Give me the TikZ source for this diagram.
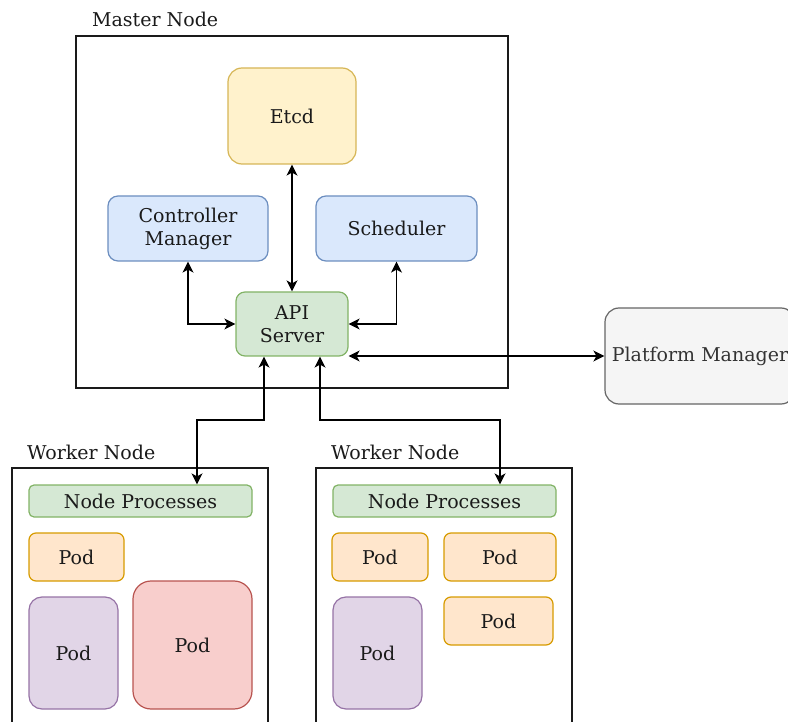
\documentclass[tikz,border=0pt]{standalone}
\usepackage{fontspec}
\setmainfont{DejaVu Serif}
\usetikzlibrary{arrows.meta}
\definecolor{ylwF}{HTML}{FFF2CC}\definecolor{ylwD}{HTML}{D6B656}
\definecolor{bluF}{HTML}{DAE8FC}\definecolor{bluD}{HTML}{6C8EBF}
\definecolor{grnF}{HTML}{D5E8D4}\definecolor{grnD}{HTML}{82B366}
\definecolor{orgF}{HTML}{FFE6CC}\definecolor{orgD}{HTML}{D79B00}
\definecolor{purF}{HTML}{E1D5E7}\definecolor{purD}{HTML}{9673A6}
\definecolor{redF}{HTML}{F8CECC}\definecolor{redD}{HTML}{B85450}
\definecolor{gryF}{HTML}{F5F5F5}\definecolor{gryD}{HTML}{666666}
\definecolor{gryT}{HTML}{333333}
\definecolor{ink}{HTML}{1A1A1A}
\tikzset{
  box/.style={draw, line width=1.2pt, rectangle, align=center, inner sep=0pt, text=ink,
    font=\fontsize{19}{23}\selectfont},
  container/.style={draw=ink, line width=1.5pt, rectangle, inner sep=0pt},
  caption/.style={anchor=base west, inner sep=0pt, text=ink, font=\fontsize{19}{23}\selectfont},
  yellowbox/.style={box, fill=ylwF, draw=ylwD},
  bluebox/.style={box, fill=bluF, draw=bluD},
  greenbox/.style={box, fill=grnF, draw=grnD},
  orangebox/.style={box, fill=orgF, draw=orgD},
  purplebox/.style={box, fill=purF, draw=purD},
  redbox/.style={box, fill=redF, draw=redD},
  greybox/.style={box, fill=gryF, draw=gryD, text=gryT},
  link/.style={draw=black, line width=1.5pt,
    {Stealth[length=11pt,width=11pt,inset=3pt]}-{Stealth[length=11pt,width=11pt,inset=3pt]}},
}
\begin{document}
\begin{tikzpicture}[x=1pt,y=-1pt]
\useasboundingbox (0,0) rectangle (788,722);

% containers
\node[container, minimum width=432, minimum height=352] (master) at (292,212) {};
\node[caption] (masterlbl) at (92,27) {Master Node};
\node[container, minimum width=256, minimum height=280] (w1) at (140,608) {};
\node[caption] (w1lbl) at (27,459) {Worker Node};
\node[container, minimum width=256, minimum height=280] (w2) at (444,608) {};
\node[caption] (w2lbl) at (331,459) {Worker Node};

% master components
\node[yellowbox, rounded corners=14pt, minimum width=128, minimum height=96] (etcd) at (292,116) {Etcd};
\node[bluebox, rounded corners=10pt, minimum width=160, minimum height=65] (ctrl) at (188,228.5) {Controller\\Manager};
\node[bluebox, rounded corners=10pt, minimum width=161, minimum height=65] (sched) at (396.5,228.5) {Scheduler};
\node[greenbox, rounded corners=9pt, minimum width=112, minimum height=64] (api) at (292,324) {API\\Server};
\node[greybox, rounded corners=14pt, minimum width=190, minimum height=96] (pm) at (700,356) {Platform Manager};

% worker 1
\node[greenbox, rounded corners=5pt, minimum width=223, minimum height=32] (np1) at (140.5,501) {Node Processes};
\node[orangebox, rounded corners=7pt, minimum width=95, minimum height=48] (p11) at (76.5,557) {Pod};
\node[purplebox, rounded corners=13pt, minimum width=89, minimum height=112] (p12) at (73.5,653) {Pod};
\node[redbox, rounded corners=18pt, minimum width=119, minimum height=128] (p13) at (192.5,645) {Pod};

% worker 2
\node[greenbox, rounded corners=5pt, minimum width=223, minimum height=32] (np2) at (444.5,501) {Node Processes};
\node[orangebox, rounded corners=7pt, minimum width=96, minimum height=48] (p21) at (380,557) {Pod};
\node[orangebox, rounded corners=7pt, minimum width=112, minimum height=48] (p22) at (500,557) {Pod};
\node[orangebox, rounded corners=7pt, minimum width=109, minimum height=48] (p23) at (498.5,621) {Pod};
\node[purplebox, rounded corners=13pt, minimum width=89, minimum height=112] (p24) at (377.5,653) {Pod};

% connectors
\draw[link] (etcd.south) -- (api.north);
\draw[link] (ctrl.south) |- (api.west);
\draw[link] (sched.south) |- (api.east);
\draw[link] (api.east |- 0,356) -- (pm.west);
\draw[link] (api.south -| 264,0) -- (264,420) -| (np1.north -| 197,0);
\draw[link] (api.south -| 320,0) -- (320,420) -| (np2.north -| 500,0);
\end{tikzpicture}
\end{document}
